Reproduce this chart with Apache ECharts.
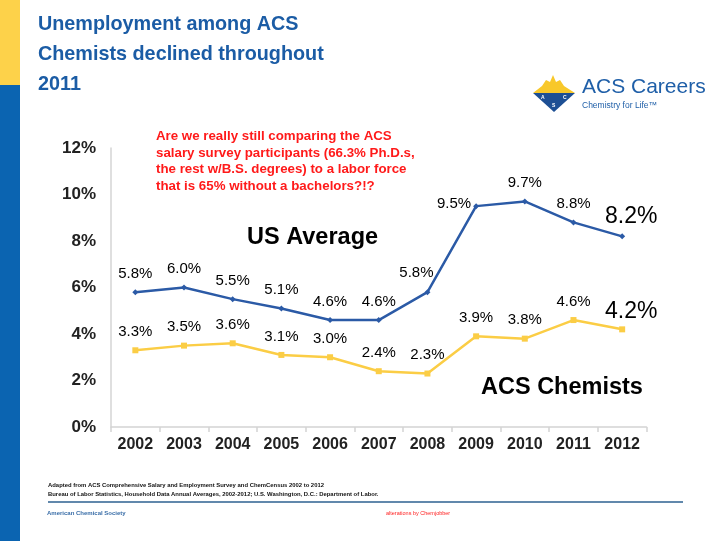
<!DOCTYPE html>
<html><head><meta charset="utf-8">
<script src="https://cdn.jsdelivr.net/npm/echarts@6/dist/echarts.min.js"></script>
<style>html,body{margin:0;padding:0;background:#fff}#c{width:711px;height:541px}</style>
</head><body><div id="c"></div>
<script>
var years = ['2002','2003','2004','2005','2006','2007','2008','2009','2010','2011','2012'];
var usAverage = [5.8, 6.0, 5.5, 5.1, 4.6, 4.6, 5.8, 9.5, 9.7, 8.8, 8.2];
var acsChemists = [3.3, 3.5, 3.6, 3.1, 3.0, 2.4, 2.3, 3.9, 3.8, 4.6, 4.2];
var yTicks = [0, 2, 4, 6, 8, 10, 12];
var titleLines = ['Unemployment among ACS', 'Chemists declined throughout', '2011'];
var noteLines = ['Are we really still comparing the ACS', 'salary survey participants (66.3% Ph.D.s,', 'the rest w/B.S. degrees) to a labor force', 'that is 65% without a bachelors?!?'];
var sourceLines = ['Adapted from ACS Comprehensive Salary and Employment Survey and ChemCensus 2002 to 2012', 'Bureau of Labor Statistics, Household Data Annual Averages, 2002-2012; U.S. Washington, D.C.: Department of Labor.'];

var FONT = '"Liberation Sans", Arial, sans-serif';

var usOverrides = {6: {offset: [-11, -1]}, 7: {offset: [-22, 16]}, 10: {offset: [9, 3], fontSize: 23}};
var acsOverrides = {10: {offset: [9, 5], fontSize: 23}};

function build(vals, ov) {
  return vals.map(function (v, i) {
    var d = {value: v};
    if (ov[i]) d.label = ov[i];
    return d;
  });
}

var graphics = [
  {type: 'rect', shape: {x: 0, y: 0, width: 20, height: 85}, style: {fill: '#fdd24a'}},
  {type: 'rect', shape: {x: 0, y: 85, width: 20, height: 456}, style: {fill: '#0b64b1'}},
  {type: 'line', shape: {x1: 48, y1: 502, x2: 683, y2: 502}, style: {stroke: '#2d6090', lineWidth: 1.5}},
  {type: 'text', left: 47, top: 510, style: {text: 'American Chemical Society', font: 'bold 6px ' + FONT, fill: '#3a6ea8'}},
  {type: 'text', left: 386, top: 510, style: {text: 'alterations by Chemjobber', font: '5.5px ' + FONT, fill: '#ff2020'}},
  {type: 'text', left: 247, top: 226, style: {text: 'US Average', font: 'bold 23.5px ' + FONT, fill: '#000'}},
  {type: 'text', left: 481, top: 376, style: {text: 'ACS Chemists', font: 'bold 23.5px ' + FONT, fill: '#000'}},
  // logo
  {type: 'polygon', shape: {points: [[533, 93], [542, 86], [546, 80], [550, 82], [553, 75], [556, 82], [560, 80], [564, 86], [575, 93]]}, style: {fill: '#f8c82a'}},
  {type: 'polygon', shape: {points: [[533, 93], [575, 93], [554, 112]]}, style: {fill: '#1d4f94'}},
  {type: 'text', left: 541, top: 95, style: {text: 'A', font: 'bold 5px ' + FONT, fill: '#fff'}},
  {type: 'text', left: 563, top: 95, style: {text: 'C', font: 'bold 5px ' + FONT, fill: '#fff'}},
  {type: 'text', left: 552, top: 103, style: {text: 'S', font: 'bold 5px ' + FONT, fill: '#fff'}},
  {type: 'text', left: 582, top: 77, style: {text: 'ACS Careers', font: '21px ' + FONT, fill: '#1f5fa8'}},
  {type: 'text', left: 582, top: 101, style: {text: 'Chemistry for Life\u2122', font: '8.5px ' + FONT, fill: '#1f5fa8'}}
];
titleLines.forEach(function (t, i) {
  graphics.push({type: 'text', left: 38, top: 15 + i * 30, style: {text: t, font: 'bold 19.8px ' + FONT, fill: '#1b5ca5'}});
});
noteLines.forEach(function (t, i) {
  graphics.push({type: 'text', left: 156, top: 130 + i * 16.6, style: {text: t, font: 'bold 13.3px ' + FONT, fill: '#ff1a1a'}});
});
sourceLines.forEach(function (t, i) {
  graphics.push({type: 'text', left: 48, top: 482 + i * 9.5, style: {text: t, font: 'bold 5.9px ' + FONT, fill: '#111'}});
});

var chart = echarts.init(document.getElementById('c'));
chart.setOption({
  animation: false,
  backgroundColor: '#fff',
  grid: {left: 111, right: 64.5, top: 148, bottom: 114, containLabel: false},
  xAxis: {
    type: 'category', data: years, boundaryGap: true,
    axisLine: {lineStyle: {color: '#d4d4d4', width: 1.5}},
    axisTick: {show: true, length: 5, lineStyle: {color: '#d4d4d4', width: 1.5}},
    axisLabel: {fontFamily: FONT, fontWeight: 'bold', fontSize: 16, color: '#222', margin: 10}
  },
  yAxis: {
    type: 'value', min: yTicks[0], max: yTicks[yTicks.length - 1], interval: 2,
    axisLine: {show: true, lineStyle: {color: '#d4d4d4', width: 1.5}},
    axisTick: {show: false},
    splitLine: {show: false},
    axisLabel: {formatter: '{value}%', fontFamily: FONT, fontWeight: 'bold', fontSize: 17, color: '#222', margin: 15}
  },
  series: [
    {
      name: 'US Average', type: 'line', data: build(usAverage, usOverrides),
      symbol: 'diamond', symbolSize: 6,
      lineStyle: {color: '#2b5aa6', width: 2.5}, itemStyle: {color: '#2b5aa6'},
      label: {show: true, position: 'top', distance: 8, formatter: function (p) { return p.value.toFixed(1) + '%'; }, fontFamily: FONT, fontSize: 15, color: '#000'}
    },
    {
      name: 'ACS Chemists', type: 'line', data: build(acsChemists, acsOverrides),
      symbol: 'rect', symbolSize: 6,
      lineStyle: {color: '#fbcd45', width: 2.5}, itemStyle: {color: '#fbcd45'},
      label: {show: true, position: 'top', distance: 8, formatter: function (p) { return p.value.toFixed(1) + '%'; }, fontFamily: FONT, fontSize: 15, color: '#000'}
    }
  ],
  graphic: graphics
});
</script></body></html>
